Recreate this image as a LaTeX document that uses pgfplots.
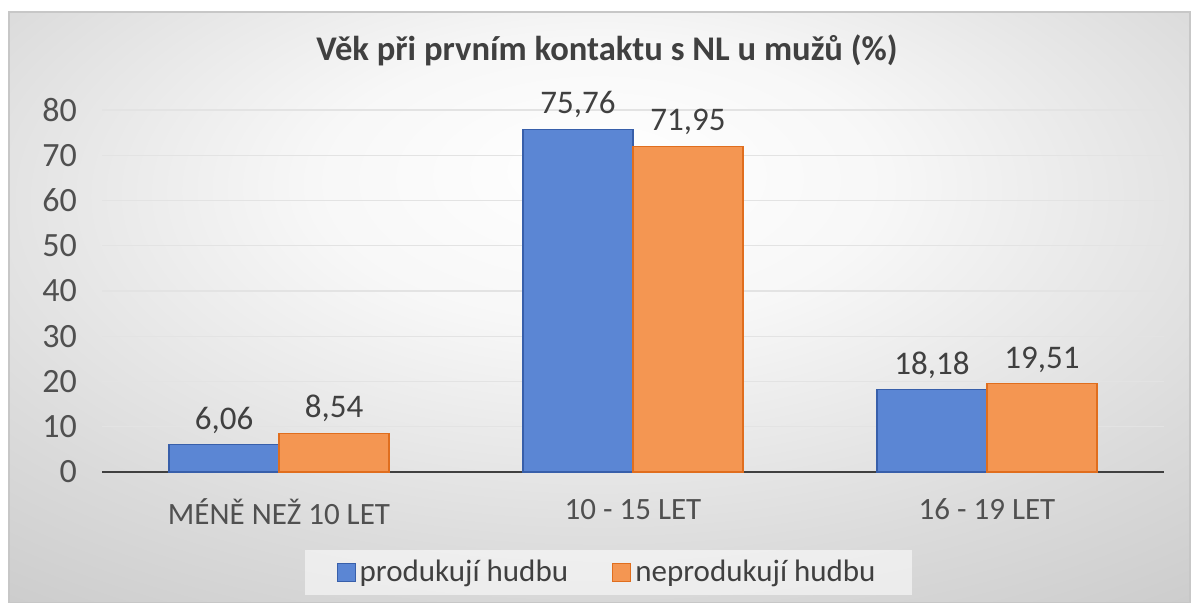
\documentclass[border=0pt]{standalone}
\usepackage{fontspec}
\setmainfont{Carlito}
\usepackage{pgfplots}
\usepackage{pgfplotstable}
\pgfplotsset{compat=1.18}
\definecolor{txt}{RGB}{64,64,64}
\definecolor{tick}{RGB}{80,80,80}
\definecolor{barblue}{RGB}{91,134,212}
\definecolor{edgeblue}{RGB}{56,95,170}
\definecolor{barorange}{RGB}{244,150,82}
\definecolor{edgeorange}{RGB}{224,110,30}
\pgfdeclareradialshading{bgshade}{\pgfpoint{0bp}{12bp}}{color(0bp)=(white); color(12bp)=(black!3); color(30bp)=(black!14); color(45bp)=(black!22); color(65bp)=(black!28); color(100bp)=(black!30)}
\pgfplotsset{sqlegend/.style={legend image code/.code={\draw[##1, fill opacity=1, draw opacity=1] (0pt,-4.5pt) rectangle (9pt,4.5pt);}}}
\pgfplotstableread{
x prod prodl neprod neprodl
0 6.06 6,06 8.54 8,54
1 75.76 75,76 71.95 71,95
2 18.18 18,18 19.51 19,51
}\data
\begin{document}
\begin{tikzpicture}
\useasboundingbox (0,0) rectangle (597pt,301.5pt);
\shade[shading=bgshade] (4.5pt,0) rectangle (595pt,295.5pt);
\draw[black!22, line width=0.6pt] (4.5pt,0) rectangle (595pt,295.5pt);
\node[font=\bfseries\fontsize{17.3}{20}\selectfont, text=txt] at (303.5pt,276.5pt) {Věk při prvním kontaktu s NL u mužů (\%)};
\begin{axis}[
  at={(51pt,65.5pt)}, anchor=south west,
  scale only axis, width=531pt, height=181pt,
  ybar=0pt, bar width=55pt,
  xmin=-0.5, xmax=2.5, ymin=0, ymax=80,
  xtick={0,1,2},
  xticklabels={MÉNĚ NEŽ 10 LET, 10 - 15 LET, 16 - 19 LET},
  ytick={0,10,...,80},
  axis lines*=left,
  y axis line style={draw=none},
  x axis line style={-, draw=txt, line width=1pt},
  major tick length=0pt,
  ymajorgrids, grid style={line width=0.6pt, draw=black!11},
  /pgf/number format/assume math mode=true,
  xticklabel style={font=\fontsize{15.5}{18}\selectfont, text=tick, yshift=-10pt},
  yticklabel style={font=\fontsize{17}{20}\selectfont, text=tick, xshift=-9pt},
  clip=false,
  point meta=explicit symbolic,
  nodes near coords,
  every node near coord/.append style={font=\fontsize{16.5}{19}\selectfont, text=txt, yshift=2pt},
  legend columns=2,
  legend style={at={(0.4765,-0.2776)}, anchor=center, draw=none,
    fill=white, fill opacity=0.55, text opacity=1,
    font=\fontsize{15.5}{18}\selectfont, text=txt,
    inner xsep=16pt, inner ysep=3pt,
    /tikz/every even column/.append style={column sep=20pt}},
]
\addplot[fill=barblue, draw=edgeblue, line width=0.6pt, sqlegend]
  table[x=x, y=prod, meta=prodl] {\data};
\addplot[fill=barorange, draw=edgeorange, line width=0.6pt, sqlegend]
  table[x=x, y=neprod, meta=neprodl] {\data};
\legend{produkují hudbu, neprodukují hudbu}
\end{axis}
\end{tikzpicture}
\end{document}
